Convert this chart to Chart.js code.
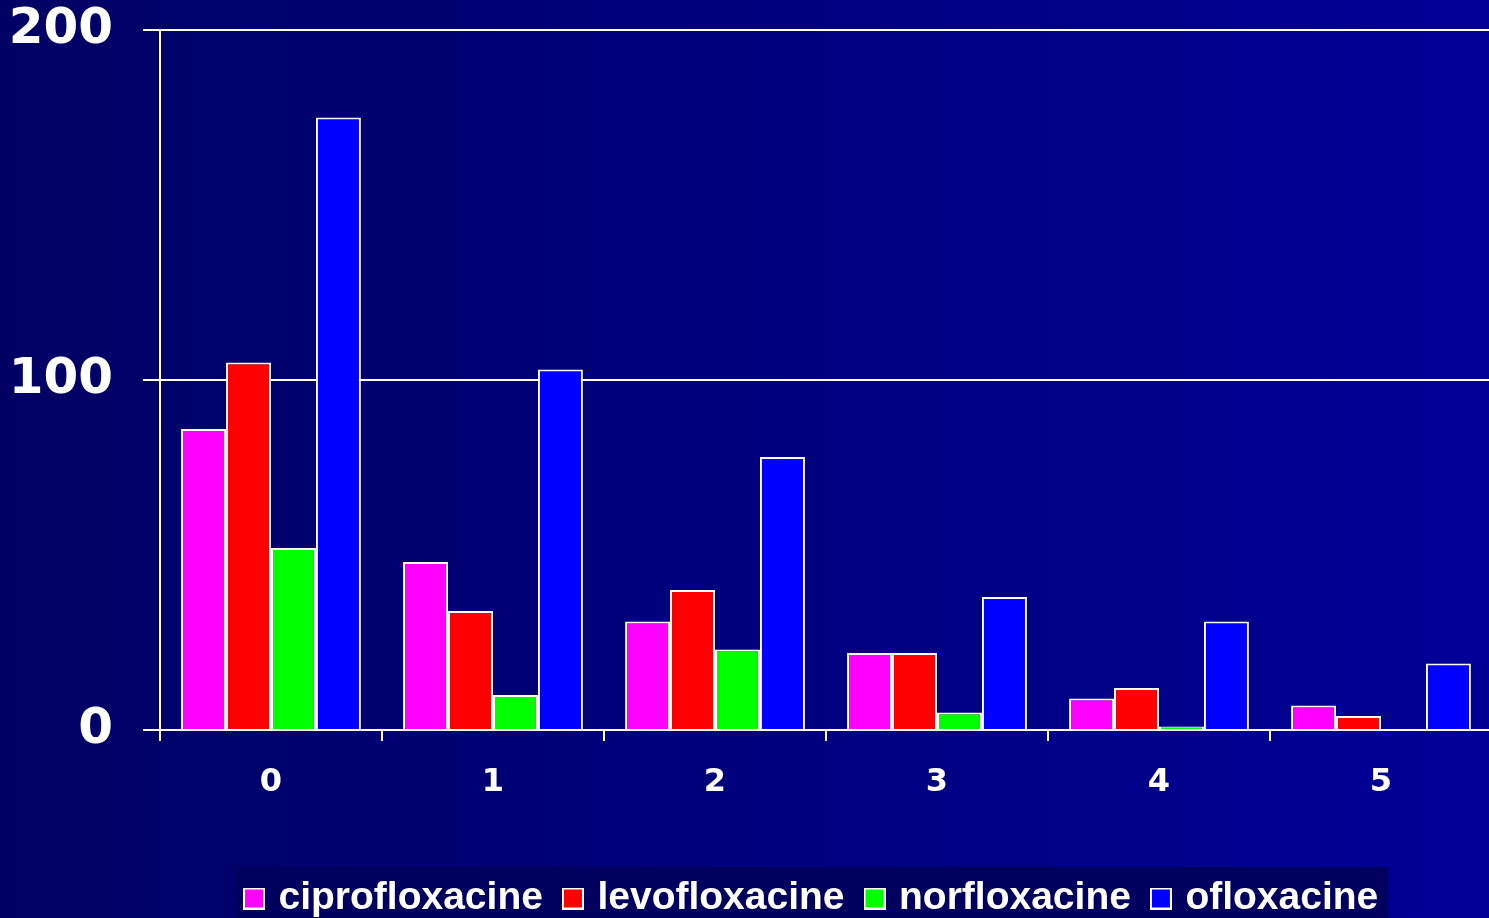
<!DOCTYPE html>
<html>
<head>
<meta charset="utf-8">
<script src="https://cdn.jsdelivr.net/npm/chart.js@4/dist/chart.umd.min.js"></script>
<style>
  html, body { margin: 0; padding: 0; overflow: hidden; width: 1489px; height: 918px; }
  body { background: linear-gradient(to right, #000064, #000096); }
  #chart { position: absolute; left: 0; top: 0; }
</style>
</head>
<body>
<canvas id="chart" width="1494" height="928"></canvas>
<script>
// Data
const categories = ['0', '1', '2', '3', '4', '5'];
const seriesNames = ['ciprofloxacine', 'levofloxacine', 'norfloxacine', 'ofloxacine'];
const cipro = [86, 48, 31, 22, 9, 7];
const levo = [105, 34, 40, 22, 12, 4];
const norflo = [52, 10, 23, 5, 1, 0];
const oflo = [175, 103, 78, 38, 31, 19];
const yTicks = [0, 100, 200];

const WHITE = '#ffffff';
const colors = ['#ff00ff', '#ff0000', '#00ff00', '#0000ff'];
const LEGEND_PAD = 25;

// small square swatch with a white edge, used as legend point style
function makeSwatch(color) {
  const c = document.createElement('canvas');
  c.width = 22;
  c.height = 22;
  const g = c.getContext('2d');
  g.fillStyle = WHITE;
  g.fillRect(0, 0, 22, 22);
  g.fillStyle = color;
  g.fillRect(2, 2, 18, 18);
  return c;
}
const swatches = colors.map(makeSwatch);

// Move the legend so its first swatch sits where the original one does,
// and paint the dark box behind it
const legendBg = {
  id: 'legendBg',
  afterLayout(chart) {
    const lg = chart.legend;
    if (!lg || !lg.lineWidths) return;
    const cx = (lg.left + LEGEND_PAD + lg.right - lg.lineWidths[0]) / 2;
    const shift = 249 - cx;
    lg.left += shift;
    lg.right += shift;
    lg.legendHitBoxes.forEach(b => { b.left += shift; });
  },
  beforeDraw(chart) {
    const lg = chart.legend;
    if (!lg || !lg.legendHitBoxes || !lg.legendHitBoxes.length) return;
    const boxes = lg.legendHitBoxes;
    const first = boxes[0];
    const last = boxes[boxes.length - 1];
    const ctx = chart.ctx;
    ctx.save();
    ctx.fillStyle = '#00005e';
    const x0 = first.left - 14;
    const x1 = last.left + last.width + 10;
    ctx.fillRect(x0, lg.top + 13, x1 - x0, chart.height - lg.top);
    ctx.restore();
  }
};

function ds(label, data, color) {
  return {
    label: label,
    data: data,
    backgroundColor: color,
    borderColor: WHITE,
    borderWidth: 2,
    categoryPercentage: 0.81,
    barPercentage: 1.0
  };
}

new Chart(document.getElementById('chart'), {
  type: 'bar',
  data: {
    labels: categories,
    datasets: [
      ds(seriesNames[0], cipro, colors[0]),
      ds(seriesNames[1], levo, colors[1]),
      ds(seriesNames[2], norflo, colors[2]),
      ds(seriesNames[3], oflo, colors[3])
    ]
  },
  options: {
    responsive: false,
    animation: false,
    devicePixelRatio: 1,
    layout: { padding: { top: 0, right: 2, left: 0, bottom: 0 } },
    scales: {
      x: {
        grid: {
          display: true,
          drawOnChartArea: false,
          drawTicks: true,
          tickLength: 11,
          color: WHITE,
          lineWidth: 2
        },
        border: { display: true, color: WHITE, width: 2 },
        ticks: {
          color: WHITE,
          padding: 22,
          font: { family: "'DejaVu Sans', Verdana, sans-serif", size: 32, weight: 'bold' }
        },
        afterFit(scale) { scale.height = 124; }
      },
      y: {
        min: 0,
        max: 200,
        afterBuildTicks(scale) { scale.ticks = yTicks.map(v => ({ value: v })); },
        grid: {
          color: WHITE,
          lineWidth: 2,
          tickLength: 17
        },
        border: { display: true, color: WHITE, width: 2 },
        ticks: {
          color: WHITE,
          padding: 30,
          // tiny line height so the top label does not push the plot down
          font: { family: "'DejaVu Sans', Verdana, sans-serif", size: 50, weight: 'bold', lineHeight: 0.001 }
        },
        afterFit(scale) { scale.width = 160; }
      }
    },
    plugins: {
      legend: {
        position: 'bottom',
        fullSize: false,
        labels: {
          color: WHITE,
          usePointStyle: true,
          pointStyleWidth: 10,
          boxWidth: 22,
          boxHeight: 22,
          padding: LEGEND_PAD,
          font: { family: "'Liberation Sans', Arial, sans-serif", size: 39, weight: 'bold' },
          generateLabels(chart) {
            const items = Chart.defaults.plugins.legend.labels.generateLabels(chart);
            items.forEach((it, i) => { it.pointStyle = swatches[i]; });
            return items;
          }
        }
      },
      tooltip: { enabled: false }
    }
  },
  plugins: [legendBg]
});
</script>
</body>
</html>
